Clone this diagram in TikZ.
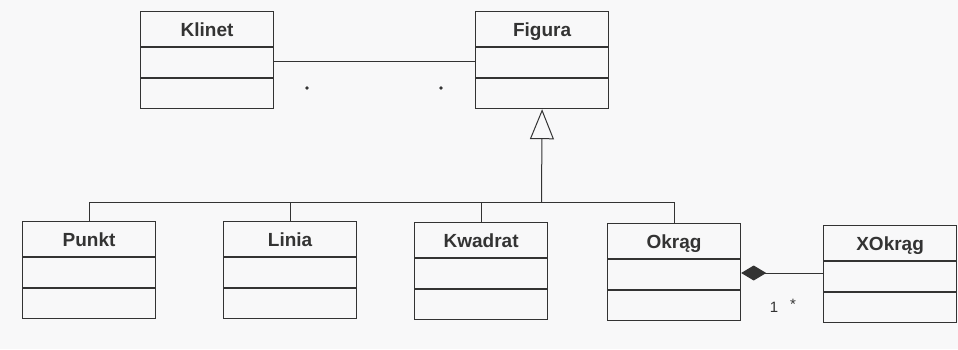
\documentclass[tikz,border=0pt]{standalone}
\usepackage{fontspec}
\setmainfont{Liberation Sans}
\usetikzlibrary{arrows.meta,calc}
\definecolor{ink}{HTML}{333333}
\definecolor{paper}{HTML}{F8F8F9}
\tikzset{
  cls/.style={draw=ink, line width=1.2pt, rectangle, anchor=north west,
    minimum width=133pt, minimum height=97pt, inner sep=0pt},
  sep/.style={draw=ink, line width=1.1pt},
  clsname/.style={font=\bfseries\fontsize{19}{21}\selectfont, text=ink,
    inner sep=0pt, anchor=base},
  conn/.style={draw=ink, line width=1pt},
  mult/.style={font=\fontsize{15}{17}\selectfont, text=ink, inner sep=0pt},
  dot/.style={circle, fill=ink, inner sep=0pt, minimum size=3.6pt}
}
% class box: name, left x, top y, label
\newcommand{\classbox}[4]{%
  \node[cls] (#1) at (#2,#3) {};
  \draw[sep] ([yshift=-36pt]#1.north west) -- ([yshift=-36pt]#1.north east);
  \draw[sep] ([yshift=-67pt]#1.north west) -- ([yshift=-67pt]#1.north east);
  \node[clsname] (#1-name) at ([yshift=-25pt]#1.north) {#4};
}
\begin{document}
\begin{tikzpicture}[x=1pt,y=-1pt]
  \fill[paper] (0,0) rectangle (958,349);
  \useasboundingbox (0,0) rectangle (958,349);

  \classbox{klinet}{140}{11}{Klinet}
  \classbox{figura}{475}{11}{Figura}
  \classbox{punkt}{22}{221}{Punkt}
  \classbox{linia}{223}{221}{Linia}
  \classbox{kwadrat}{414}{222}{Kwadrat}
  \classbox{okrag}{607}{223}{Okrąg}
  \classbox{xokrag}{823}{225}{XOkrąg}

  % association Klinet -- Figura
  \draw[conn] ([yshift=-50pt]klinet.north east) -- ([yshift=-50pt]figura.north west);
  \node[dot] (m1) at (307,88) {};
  \node[dot] (m2) at (441,88) {};

  % generalization tree
  \coordinate (bus) at (541.5,202);
  \draw[conn, -{Triangle[open, width=24pt, length=30pt, line width=1pt]}] (bus) -- (figura.south);
  \draw[conn] (punkt.north) |- (okrag.north |- bus) -- (okrag.north);
  \draw[conn] (linia.north) -- (linia.north |- bus);
  \draw[conn] (kwadrat.north) -- (kwadrat.north |- bus);

  % composition Okrag -- XOkrag
  \draw[conn, {Diamond[fill=ink, width=15pt, length=25pt]}-]
    ([yshift=-50pt]okrag.north east) -- ([yshift=-50pt]okrag.north east -| xokrag.west);
  \node[mult] (m3) at (774,307) {1};
  \node[mult] (m4) at (793,304) {*};
\end{tikzpicture}
\end{document}
